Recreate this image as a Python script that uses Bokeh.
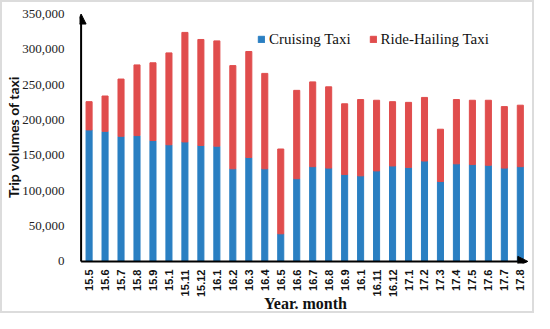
import math
from bokeh.plotting import figure
from bokeh.models import (ColumnDataSource, FixedTicker, NumeralTickFormatter, Range1d,
                          Arrow, NormalHead)
from bokeh.embed import file_html
from bokeh.resources import INLINE

months = ["15.5", "15.6", "15.7", "15.8", "15.9", "15.1", "15.11", "15.12",
          "16.1", "16.2", "16.3", "16.4", "16.5", "16.6", "16.7", "16.8", "16.9",
          "16.1", "16.11", "16.12", "17.1", "17.2", "17.3", "17.4", "17.5", "17.6",
          "17.7", "17.8"]
cruising = [186000, 184000, 177000, 178000, 171000, 165000, 169000, 164000,
            163000, 131000, 147000, 131000, 39000, 117000, 134000, 132000, 123000,
            121000, 128000, 135000, 133000, 142000, 113000, 138000, 137000, 136000,
            132000, 134000]
ride_hailing = [40000, 50000, 81000, 100000, 110000, 130000, 155000, 150000,
                149000, 146000, 150000, 135000, 120000, 125000, 120000, 115000, 100000,
                108000, 100000, 91000, 92000, 90000, 74000, 91000, 91000, 92000,
                87000, 87000]
series_names = ["Cruising Taxi", "Ride-Hailing Taxi"]
y_ticks = [0, 50000, 100000, 150000, 200000, 250000, 300000, 350000]
x_title = "Year. month"
y_title = "Trip volumes of taxi"

BLUE = "#2A7FC2"
RED = "#E04D4D"

x_pos = list(range(len(months)))
src = ColumnDataSource(dict(x=x_pos, cruising=cruising, ride=ride_hailing))

p = figure(width=534, height=313, output_backend="svg", toolbar_location=None,
           x_range=Range1d(-0.6, len(months) - 0.3),
           y_range=Range1d(-3000, 355000),
           min_border_left=77, min_border_right=5, min_border_top=8, min_border_bottom=50)
p.styles = {"border": "2px solid #dcdcdc", "box-sizing": "border-box"}

p.vbar_stack(["cruising", "ride"], x="x", width=0.38, source=src,
             color=[BLUE, RED], legend_label=series_names)

p.xgrid.visible = False
p.ygrid.visible = False
p.outline_line_color = None

xa = p.xaxis[0]
xa.ticker = FixedTicker(ticks=x_pos)
xa.major_label_overrides = {i: m for i, m in enumerate(months)}
xa.major_label_orientation = math.pi / 2
xa.axis_line_color = None
xa.major_tick_line_color = None
xa.minor_tick_line_color = None
xa.major_tick_out = 0
xa.major_tick_in = 0
xa.major_label_standoff = 6
xa.major_label_text_font = "Liberation Sans"
xa.major_label_text_font_style = "bold"
xa.major_label_text_font_size = "11px"
xa.major_label_text_color = "#111111"
xa.axis_label = x_title
xa.axis_label_text_font = "Liberation Serif"
xa.axis_label_text_font_style = "bold"
xa.axis_label_text_font_size = "16px"
xa.axis_label_text_color = "#111111"
xa.axis_label_standoff = -5

ya = p.yaxis[0]
ya.ticker = FixedTicker(ticks=y_ticks)
ya.formatter = NumeralTickFormatter(format="0,0")
ya.axis_line_color = None
ya.major_tick_line_color = None
ya.minor_tick_line_color = None
ya.major_tick_out = 0
ya.major_tick_in = 0
ya.major_label_standoff = 15
ya.major_label_text_font = "Liberation Serif"
ya.major_label_text_font_size = "13px"
ya.major_label_text_color = "#222222"
ya.axis_label = y_title
ya.axis_label_text_font = "Lato"
ya.axis_label_text_font_style = "bold"
ya.axis_label_text_font_size = "14px"
ya.axis_label_text_color = "#111111"
ya.axis_label_standoff = -3

# axis arrows
p.add_layout(Arrow(end=NormalHead(size=10, fill_color="black", line_color="black"),
                   x_start=-0.5, y_start=0, x_end=len(months) - 0.53, y_end=0,
                   line_width=2, line_color="black"))
p.add_layout(Arrow(end=NormalHead(size=10, fill_color="black", line_color="black"),
                   x_start=-0.5, y_start=0, x_end=-0.5, y_end=max(y_ticks),
                   line_width=2, line_color="black"))

lg = p.legend[0]
lg.orientation = "horizontal"
lg.location = (178, 215)
lg.padding = 0
lg.margin = 0
lg.border_line_color = None
lg.background_fill_alpha = 0
lg.glyph_width = 8
lg.glyph_height = 8
lg.label_height = 18
lg.label_standoff = 4
lg.spacing = 18
lg.label_text_font = "Liberation Serif"
lg.label_text_font_size = "15px"
lg.label_text_color = "#111111"

open("out.html", "w").write(file_html(p, INLINE))
